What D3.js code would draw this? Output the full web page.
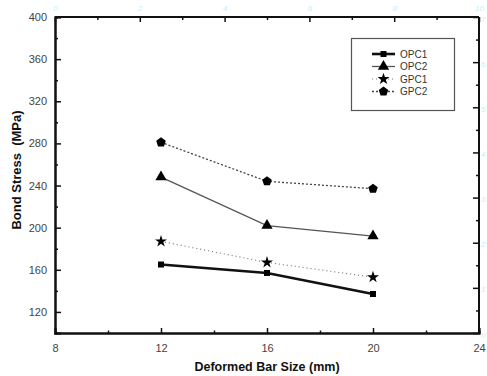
<!DOCTYPE html>
<html>
<head>
<meta charset="utf-8">
<script src="https://cdn.jsdelivr.net/npm/d3@7"></script>
<style>
html,body{margin:0;padding:0;background:#fff;}
svg{display:block;font-family:Arial,"Liberation Sans",sans-serif;}
</style>
</head>
<body>
<svg id="chart" width="487" height="376"></svg>
<script>
const barSizes = [12, 16, 20];
const opc1 = [165, 157, 137];
const opc2 = [248, 202, 192];
const gpc1 = [187, 167, 153];
const gpc2 = [281, 244, 237];
const seriesNames = ["OPC1", "OPC2", "GPC1", "GPC2"];
const xTicks = [8, 12, 16, 20, 24];
const yTicks = [120, 160, 200, 240, 280, 320, 360, 400];
const topTicks = [0, 2, 4, 6, 8, 10];
const rightTicks = [0, 1, 2, 3, 4, 5, 6, 7];

const svg = d3.select("#chart");
const L = 55, R = 479, T = 17, B = 333;
const x = d3.scaleLinear().domain([8, 24]).range([L, R]);
const y = d3.scaleLinear().domain([100, 400]).range([B, T]);
const xTop = d3.scaleLinear().domain([0, 10]).range([L, R]);
const yRight = d3.scaleLinear().domain([0, 7]).range([B, T]);

// Bottom axis
const gB = svg.append("g").attr("transform", `translate(0,${B})`)
  .call(d3.axisBottom(x).tickValues(xTicks).tickSize(-5).tickPadding(11).tickFormat(d3.format("d")));
gB.append("g").call(d3.axisBottom(x).tickValues([10, 14, 18, 22]).tickSize(-2.5).tickFormat(""));
// Left axis
const gL = svg.append("g").attr("transform", `translate(${L},0)`)
  .call(d3.axisLeft(y).tickValues(yTicks).tickSize(-6).tickPadding(8).tickFormat(d3.format("d")));
gL.append("g").call(d3.axisLeft(y).tickValues([380, 340, 300, 260, 220, 180, 140]).tickSize(-3).tickFormat(""));
// Top axis (faint secondary)
const gT = svg.append("g").attr("transform", `translate(0,${T})`)
  .call(d3.axisTop(xTop).tickValues(topTicks).tickSize(-5).tickPadding(6).tickFormat(d3.format("d")));
gT.append("g").call(d3.axisTop(xTop).tickValues([1, 3, 5, 7, 9]).tickSize(-3).tickFormat(""));
// Right axis (faint secondary)
const gR = svg.append("g").attr("transform", `translate(${R},0)`)
  .call(d3.axisRight(yRight).tickValues(rightTicks).tickSize(-6).tickPadding(2).tickFormat(d3.format("d")));
gR.append("g").call(d3.axisRight(yRight).tickValues([0.5, 1.5, 2.5, 3.5, 4.5, 5.5, 6.5]).tickSize(-3).tickFormat(""));

[gB, gL, gT, gR].forEach(g => {
  g.selectAll(".domain").attr("stroke", "#111").attr("stroke-width", 2);
  g.selectAll(".tick line").attr("stroke", "#111").attr("stroke-width", 1.5);
});
[gB, gL].forEach(g => g.selectAll(".tick text").attr("fill", "#444").attr("font-size", 11));
[gT, gR].forEach(g => g.selectAll(".tick text").attr("fill", "#c6eef8").attr("font-size", 8).attr("font-style", "italic"));
gR.selectAll(".tick text").attr("dy", "0.5em");
gT.selectAll(".domain").remove();
gR.selectAll(".domain").remove();
// frame top/right
svg.append("line").attr("x1", L).attr("x2", R).attr("y1", T).attr("y2", T).attr("stroke", "#111").attr("stroke-width", 2);
svg.append("line").attr("x1", R).attr("x2", R).attr("y1", T).attr("y2", B).attr("stroke", "#111").attr("stroke-width", 2);

// Titles
svg.append("text").attr("x", x(16)).attr("y", 371).attr("text-anchor", "middle")
  .attr("font-weight", "bold").attr("font-size", 12.5).attr("fill", "#111").text("Deformed Bar Size (mm)");
svg.append("text").attr("transform", "translate(21,170) rotate(-90)").attr("text-anchor", "middle")
  .attr("font-weight", "bold").attr("font-size", 13).attr("fill", "#111").attr("xml:space", "preserve")
  .style("white-space", "pre").text("Bond Stress  (MPa)");

// Symbols
const star5 = d3.symbol().type(d3.symbolStar).size(45);
function pentagonPath(r) {
  const pts = d3.range(5).map(i => {
    const a = -Math.PI / 2 + i * 2 * Math.PI / 5;
    return [r * Math.cos(a), r * Math.sin(a)];
  });
  return "M" + pts.map(p => p.join(",")).join("L") + "Z";
}
const styles = [
  {name: seriesNames[0], vals: opc1, color: "#111", width: 2.6, dash: null, sym: d3.symbol().type(d3.symbolSquare).size(36)()},
  {name: seriesNames[1], vals: opc2, color: "#555", width: 1.3, dash: null, sym: d3.symbol().type(d3.symbolTriangle).size(55)()},
  {name: seriesNames[2], vals: gpc1, color: "#777", width: 1.2, dash: "1,3", sym: star5()},
  {name: seriesNames[3], vals: gpc2, color: "#444", width: 1.3, dash: "2,2", sym: pentagonPath(5)}
];
const line = d3.line().x((d, i) => x(barSizes[i])).y(d => y(d));
styles.forEach(s => {
  svg.append("path").datum(s.vals).attr("d", line).attr("fill", "none")
    .attr("stroke", s.color).attr("stroke-width", s.width).attr("stroke-dasharray", s.dash);
  svg.selectAll(null).data(s.vals).enter().append("path")
    .attr("d", s.sym).attr("fill", "#000")
    .attr("transform", (d, i) => `translate(${x(barSizes[i])},${y(d)})`);
});

// Legend
const lg = svg.append("g");
lg.append("rect").attr("x", 351.5).attr("y", 38.5).attr("width", 103).attr("height", 72)
  .attr("fill", "#fff").attr("stroke", "#555").attr("stroke-width", 1.2);
const lyPos = [54, 66.5, 79, 91.5];
styles.forEach((s, i) => {
  const yy = lyPos[i];
  lg.append("line").attr("x1", 372).attr("x2", 395).attr("y1", yy).attr("y2", yy)
    .attr("stroke", s.color).attr("stroke-width", s.width).attr("stroke-dasharray", s.dash);
  lg.append("path").attr("d", s.sym).attr("fill", "#000").attr("transform", `translate(383.5,${yy})`);
  lg.append("text").attr("x", 400).attr("y", yy + 3.5).attr("font-size", 10).attr("fill", "#333").text(s.name);
});
</script>
</body>
</html>
